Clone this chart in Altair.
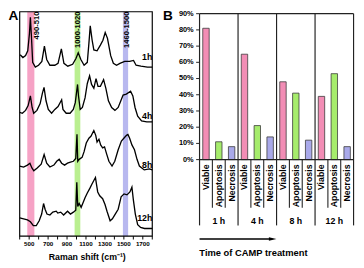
import altair as alt
import pandas as pd

# ---------------- Panel A: Raman spectra (intensity, a.u., stacked with offset) ----------------
time_labels = ["1h", "4h", "8h", "12h"]

shift_1h = [405, 434, 462, 485, 503, 513, 524, 537, 565, 599, 634, 661, 685, 719, 771,
            805, 840, 867, 908, 959, 994, 1018, 1046, 1080, 1114, 1131, 1145, 1165, 1183, 1217,
            1252, 1279, 1303, 1327, 1361, 1389, 1423, 1458, 1509, 1561, 1602, 1629, 1680, 1749, 1800]
int_1h = [189, 186, 188, 193, 211, 228, 208, 181, 176, 178, 182, 198, 184, 178, 178,
          180, 195, 180, 177, 179, 185, 191, 184, 178, 181, 201, 219, 204, 194, 193,
          199, 204, 212, 206, 188, 180, 178, 180, 182, 182, 183, 178, 177, 176, 176]

shift_4h = [400, 428, 462, 489, 513, 531, 548, 582, 616, 640, 657, 678, 702, 737, 771,
            805, 843, 857, 891, 932, 966, 987, 1011, 1021, 1039, 1062, 1090, 1114, 1138, 1159,
            1183, 1206, 1227, 1252, 1286, 1310, 1337, 1371, 1406, 1440, 1468, 1492, 1526, 1571, 1595,
            1618, 1646, 1687, 1742, 1800]
int_4h = [129, 128, 131, 136, 146, 134, 128, 131, 138, 149, 155, 141, 132, 128, 132,
          135, 142, 132, 128, 128, 132, 139, 158, 146, 132, 134, 144, 159, 167, 158,
          154, 164, 156, 156, 163, 154, 141, 134, 131, 134, 141, 147, 148, 151, 146,
          134, 125, 120, 119, 119]

shift_8h = [400, 441, 482, 508, 529, 549, 585, 627, 658, 685, 719, 761, 791, 817, 843,
            874, 905, 936, 967, 992, 1005, 1013, 1028, 1059, 1080, 1103, 1131, 1152, 1183, 1203,
            1217, 1237, 1255, 1276, 1296, 1317, 1342, 1375, 1404, 1440, 1474, 1509, 1528, 1543, 1561,
            1585, 1612, 1639, 1664, 1715, 1770, 1800]
int_8h = [73, 72, 74, 76, 71, 68, 71, 75, 85, 76, 72, 74, 78, 80, 76,
          74, 76, 77, 78, 81, 106, 78, 80, 82, 88, 97, 102, 104, 110, 105,
          98, 101, 95, 92, 93, 86, 78, 73, 78, 90, 99, 103, 105, 106, 102,
          95, 90, 80, 73, 69, 70, 69]

shift_12h = [400, 441, 482, 513, 544, 575, 606, 632, 652, 668, 688, 719, 750, 786, 802,
             833, 864, 905, 936, 967, 992, 1003, 1013, 1028, 1049, 1070, 1090, 1114, 1142, 1162,
             1183, 1200, 1214, 1224, 1245, 1276, 1301, 1322, 1355, 1379, 1409, 1440, 1471, 1502, 1533,
             1564, 1585, 1600, 1621, 1646, 1677, 1718, 1770, 1800]
int_12h = [19, 18, 17, 15, 11, 11, 16, 23, 34, 28, 23, 22, 25, 26, 24,
           25, 22, 26, 23, 25, 27, 56, 31, 34, 30, 35, 40, 45, 50, 54,
           58, 61, 52, 46, 42, 39, 33, 26, 16, 18, 23, 28, 41, 44, 43,
           46, 51, 38, 23, 12, 9, 8, 8, 8]

band_names = ["490-510", "1000-1020", "1460-1500"]
band_lo = [480, 980, 1490]
band_hi = [555, 1040, 1545]
band_colors = ["#F59DC2", "#B6EE8A", "#B4B4EE"]

tick_vals = list(range(400, 1801, 100))
tick_label_vals = [500, 700, 900, 1100, 1300, 1500, 1700]

# ---------------- Panel B: cell fate percentages ----------------
times = ["1 h", "4 h", "8 h", "12 h"]
fates = ["Viable", "Apoptosis", "Necrosis"]
viable = [81, 65, 48, 39]
apoptosis = [11, 21, 41, 53]
necrosis = [8, 14, 12, 8]
fate_colors = ["#F28DB5", "#A6EC6C", "#A9A9EA"]
pct_ticks = [0, 10, 20, 30, 40, 50, 60, 70, 80, 90]

FONT = "Liberation Sans"


def X(rx):
    return rx - 7


def Y(ry):
    return (ry - 3.5) * 0.985


one = pd.DataFrame({"a": [0]})
layers = []

# ---- Panel A ----
xA = alt.Scale(domain=[400, 1800], range=[X(19), X(155)], nice=False, zero=False)
yA = alt.Scale(domain=[0, 233.7], range=[Y(237.7), Y(4)], nice=False, zero=False)

bands_df = pd.DataFrame({"lo": band_lo, "hi": band_hi, "name": band_names})
layers.append(
    alt.Chart(bands_df).mark_rect(opacity=0.95).encode(
        x=alt.X("lo:Q", scale=xA, axis=None),
        x2="hi:Q",
        y=alt.value(Y(4)),
        y2=alt.value(Y(237.7)),
        color=alt.Color("name:N", scale=alt.Scale(domain=band_names, range=band_colors), legend=None),
    )
)

spec_df = pd.concat(
    [pd.DataFrame({"shift": s, "intensity": v, "time": t})
     for s, v, t in zip([shift_1h, shift_4h, shift_8h, shift_12h],
                        [int_1h, int_4h, int_8h, int_12h], time_labels)],
    ignore_index=True,
)
layers.append(
    alt.Chart(spec_df).mark_line(color="black", strokeWidth=1.35).encode(
        x=alt.X("shift:Q", scale=xA, axis=None),
        y=alt.Y("intensity:Q", scale=yA, axis=None),
        detail="time:N",
    )
)

# band labels (rotated)
for i, dy in enumerate([6, 0.5, 1.5]):
    layers.append(
        alt.Chart(bands_df.iloc[[i]]).transform_calculate(mid="(datum.lo + datum.hi) / 2")
        .mark_text(angle=270, align="right", baseline="middle", dy=dy, font=FONT,
                   fontWeight="bold", fontSize=7.8, color="black")
        .encode(x=alt.X("mid:Q", scale=xA, axis=None), y=alt.value(Y(3.8)), text="name:N")
    )

# spectrum time labels
for lab, ry in zip(time_labels, [51, 112.5, 164, 219]):
    layers.append(
        alt.Chart(pd.DataFrame({"t": [lab]})).mark_text(
            align="right", baseline="middle", font=FONT, fontWeight="bold", fontSize=9, color="black"
        ).encode(x=alt.value(X(155)), y=alt.value(Y(ry)), text="t:N")
    )

# frame A
layers.append(
    alt.Chart(one).mark_rect(fillOpacity=0, stroke="black", strokeWidth=1.2).encode(
        x=alt.value(X(19)), x2=alt.value(X(155)), y=alt.value(Y(4)), y2=alt.value(Y(237.7))
    )
)

# ticks and labels A
layers.append(
    alt.Chart(pd.DataFrame({"v": tick_vals})).mark_rule(color="black", strokeWidth=1).encode(
        x=alt.X("v:Q", scale=xA, axis=None), y=alt.value(Y(237.7)), y2=alt.value(Y(241.2))
    )
)
layers.append(
    alt.Chart(pd.DataFrame({"v": tick_label_vals})).mark_text(
        baseline="middle", font=FONT, fontWeight="bold", fontSize=6.4, color="black"
    ).encode(x=alt.X("v:Q", scale=xA, axis=None), y=alt.value(Y(245.5)), text="v:Q")
)
layers.append(
    alt.Chart(pd.DataFrame({"t": ["Raman shift (cm\u207b\u00b9)"]})).mark_text(
        baseline="middle", font=FONT, fontWeight="bold", fontSize=9, color="black"
    ).encode(x=alt.value(X(88.3)), y=alt.value(Y(259)), text="t:N")
)

# ---- Panel B ----
rows = []
for i, t in enumerate(times):
    for f, vals in zip(fates, [viable, apoptosis, necrosis]):
        rows.append({"time": t, "fate": f, "key": t + "|" + f, "pct": vals[i]})
bar_df = pd.DataFrame(rows)
keys = list(bar_df["key"])

xB = alt.Scale(domain=keys, range=[X(203.5), X(361.5)], paddingInner=0.5, paddingOuter=0.25)
yB = alt.Scale(domain=[0, 90], range=[Y(158), Y(6)], nice=False, zero=True)
xG = alt.Scale(domain=times, range=[X(203.5), X(361.5)], paddingInner=0, paddingOuter=0)
xS = alt.Scale(domain=[0, 12], range=[X(203.5), X(361.5)], nice=False, zero=False)

layers.append(
    alt.Chart(bar_df).mark_bar(stroke="#3a3a3a", strokeWidth=0.8).encode(
        x=alt.X("key:N", scale=xB, axis=None, sort=keys),
        y=alt.Y("pct:Q", scale=yB, axis=None),
        color=alt.Color("fate:N", scale=alt.Scale(domain=fates, range=fate_colors), legend=None),
    )
)

# horizontal borders (top and 0 %)
layers.append(
    alt.Chart(pd.DataFrame({"p": [0, 90]})).mark_rule(color="#222", strokeWidth=1.2).encode(
        y=alt.Y("p:Q", scale=yB, axis=None), x=alt.value(X(203.5)), x2=alt.value(X(361.5))
    )
)

# vertical separators
sep_df = pd.DataFrame({"k": list(range(13))})
layers.append(
    alt.Chart(sep_df).transform_filter("datum.k % 3 == 0").mark_rule(color="#222", strokeWidth=1.2).encode(
        x=alt.X("k:Q", scale=xS, axis=None), y=alt.value(Y(6)), y2=alt.value(Y(226.5))
    )
)
layers.append(
    alt.Chart(sep_df).transform_filter("datum.k % 3 != 0").mark_rule(color="#222", strokeWidth=1.1).encode(
        x=alt.X("k:Q", scale=xS, axis=None), y=alt.value(Y(158)), y2=alt.value(Y(208))
    )
)

# y ticks and labels
pct_df = pd.DataFrame({"p": pct_ticks})
layers.append(
    alt.Chart(pct_df).mark_rule(color="#222", strokeWidth=1).encode(
        y=alt.Y("p:Q", scale=yB, axis=None), x=alt.value(X(200)), x2=alt.value(X(203.5))
    )
)
layers.append(
    alt.Chart(pct_df).transform_calculate(lab="datum.p + '%'").mark_text(
        align="right", baseline="middle", font=FONT, fontWeight="bold", fontSize=7.6, color="black"
    ).encode(y=alt.Y("p:Q", scale=yB, axis=None), x=alt.value(X(197.5)), text="lab:N")
)

# fate labels (rotated)
layers.append(
    alt.Chart(bar_df).mark_text(
        angle=270, align="right", baseline="middle", font=FONT, fontWeight="bold", fontSize=9, color="black"
    ).encode(x=alt.X("key:N", scale=xB, axis=None, sort=keys), y=alt.value(Y(163)), text="fate:N")
)

# time group labels
layers.append(
    alt.Chart(pd.DataFrame({"time": times})).mark_text(
        baseline="middle", font=FONT, fontWeight="bold", fontSize=9, color="black"
    ).encode(x=alt.X("time:N", scale=xG, axis=None, sort=times), y=alt.value(Y(221.5)), text="time:N")
)

# arrow
layers.append(
    alt.Chart(one).mark_rule(color="black", strokeWidth=1.6).encode(
        x=alt.value(X(203.5)), x2=alt.value(X(278)), y=alt.value(Y(240.7))
    )
)
layers.append(
    alt.Chart(one).mark_point(shape="M -1 -0.45 L 1 0 L -1 0.45 Z", filled=True, size=60,
                              color="black", opacity=1).encode(
        x=alt.value(X(278.5)), y=alt.value(Y(240.7))
    )
)
layers.append(
    alt.Chart(pd.DataFrame({"t": ["Time of CAMP treatment"]})).mark_text(
        align="left", baseline="middle", font=FONT, fontWeight="bold", fontSize=9.6, color="black"
    ).encode(x=alt.value(X(203.3)), y=alt.value(Y(255)), text="t:N")
)

# panel letters
for lab, rx in zip(["A", "B"], [7.5, 166]):
    layers.append(
        alt.Chart(pd.DataFrame({"t": [lab]})).mark_text(
            align="left", baseline="middle", font=FONT, fontWeight="bold", fontSize=14, color="black"
        ).encode(x=alt.value(X(rx)), y=alt.value(Y(8.8)), text="t:N")
    )

chart = (
    alt.layer(*layers)
    .resolve_scale(x="independent", y="independent", color="independent")
    .properties(width=357, height=260, padding=0, autosize=alt.AutoSizeParams(type="none"))
    .configure_view(stroke=None)
)

chart.save("out.html", embed_options={"renderer": "svg", "actions": False})
